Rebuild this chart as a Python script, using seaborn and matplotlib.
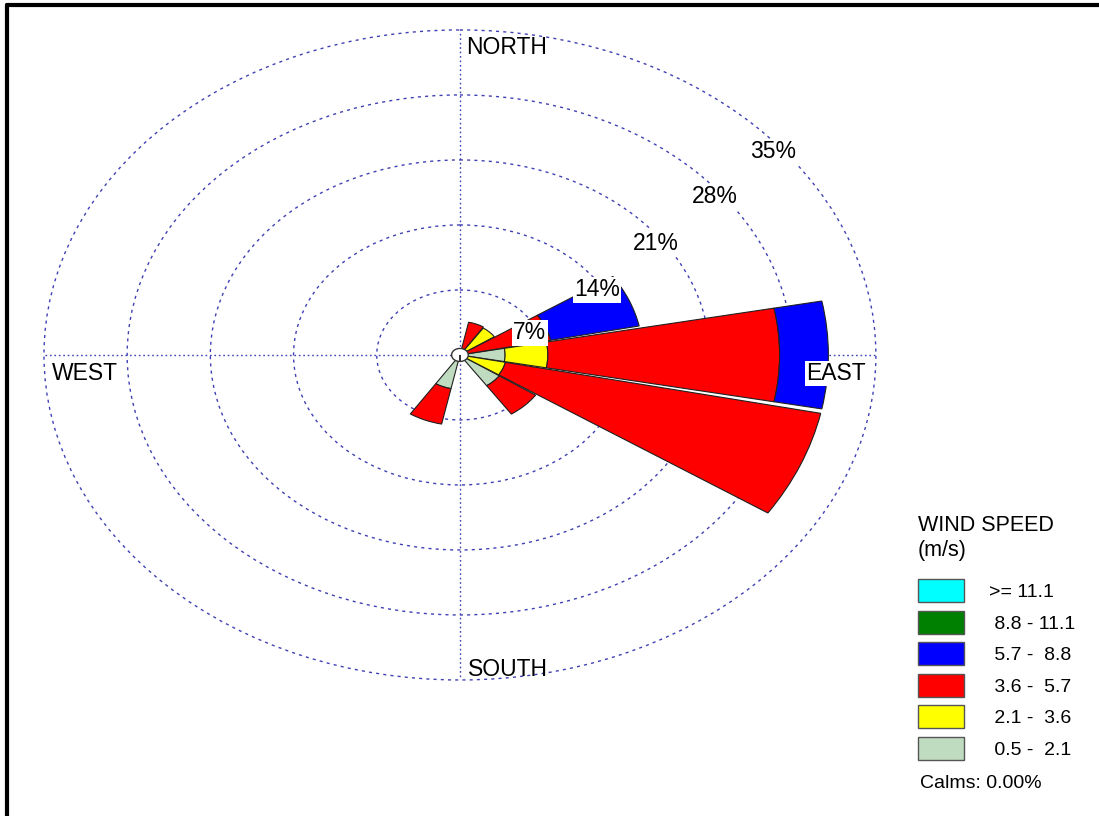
import numpy as np
import pandas as pd
import matplotlib
matplotlib.use('Agg')
import matplotlib.pyplot as plt
import seaborn as sns
from matplotlib.patches import Patch
from matplotlib.lines import Line2D

sns.set_style('white')
plt.rcParams['font.family'] = ['Liberation Sans', 'DejaVu Sans']
plt.rcParams['text.color'] = 'black'

# wind rose data: frequency (%) per direction and speed class
directions = ['N', 'NNE', 'NE', 'ENE', 'E', 'ESE', 'SE', 'SSE',
              'S', 'SSW', 'SW', 'WSW', 'W', 'WNW', 'NW', 'NNW']
dir_angles = [0, 22.5, 45, 67.5, 90, 112.5, 135, 157.5,
              180, 202.5, 225, 247.5, 270, 292.5, 315, 337.5]
speed_05_21 = [0, 0, 0, 0, 3.8, 0, 4.0, 0, 0, 3.7, 0, 0, 0, 0, 0, 0]
speed_21_36 = [0, 0, 3.5, 0, 3.6, 3.9, 0, 0, 0, 0, 0, 0, 0, 0, 0, 0]
speed_36_57 = [0, 3.6, 0, 7.8, 19.5, 27.1, 3.7, 0, 0, 3.9, 0, 0, 0, 0, 0, 0]
speed_57_88 = [0, 0, 0, 7.6, 4.1, 0, 0, 0, 0, 0, 0, 0, 0, 0, 0, 0]
speed_88_111 = [0, 0, 0, 0, 0, 0, 0, 0, 0, 0, 0, 0, 0, 0, 0, 0]
speed_111 = [0, 0, 0, 0, 0, 0, 0, 0, 0, 0, 0, 0, 0, 0, 0, 0]

classes = ['0.5 - 2.1', '2.1 - 3.6', '3.6 - 5.7', '5.7 - 8.8', '8.8 - 11.1', '>= 11.1']
legend_labels = [' 0.5 -  2.1', ' 2.1 -  3.6', ' 3.6 -  5.7', ' 5.7 -  8.8', ' 8.8 - 11.1', '>= 11.1']
colors = ['#c0dcc0', '#ffff00', '#ff0000', '#0000ff', '#008000', '#00ffff']

rings = [7, 14, 21, 28, 35]
ring_labels = ['7%', '14%', '21%', '28%', '35%']
ring_label_theta = [68, 58.7, 53.8, 51.6, 50.3]
ring_label_r = [6.35, 13.5, 20.4, 27.4, 34.3]

df = pd.DataFrame({'0.5 - 2.1': speed_05_21, '2.1 - 3.6': speed_21_36,
                   '3.6 - 5.7': speed_36_57, '5.7 - 8.8': speed_57_88,
                   '8.8 - 11.1': speed_88_111, '>= 11.1': speed_111},
                  index=directions)

fig = plt.figure(figsize=(10.99, 8.16), dpi=100)
ax = fig.add_axes([0.040, 0.1667, 0.757, 0.7966], projection='polar')
ax.set_aspect('auto')
ax.set_theta_zero_location('N')
ax.set_theta_direction(-1)
ax.set_ylim(0, 35)
ax.set_axisbelow(True)

grid_col = '#4040b4'
ax.set_rgrids(rings, labels=[''] * len(rings))
ax.set_thetagrids([0, 90, 180, 270], labels=[''] * 4)
ax.yaxis.grid(True, color=grid_col, linestyle=(0, (2.2, 3)), linewidth=1)
ax.xaxis.grid(True, color=grid_col, linestyle=(0, (1.2, 2)), linewidth=1)
for gl in ax.yaxis.get_gridlines():
    gl.set_clip_on(False)
ax.spines['polar'].set_visible(False)

theta = np.deg2rad(dir_angles)
width = np.deg2rad(22.5) * 0.96
bottom = np.zeros(len(directions))
for cls, col in zip(classes, colors):
    vals = df[cls].values
    m = vals > 0
    if m.any():
        ax.bar(theta[m], vals[m], width=width, bottom=bottom[m], color=col,
               edgecolor='#202020', linewidth=0.8, zorder=2)
    bottom = bottom + vals

# calm circle in the middle
ax.bar(0, 0.7, width=2 * np.pi, bottom=0, color='white', edgecolor='#333333',
       linewidth=1, zorder=3)

for lab, t, r in zip(ring_labels, ring_label_theta, ring_label_r):
    ax.text(np.deg2rad(t), r, lab, ha='center', va='center', fontsize=16.5,
            zorder=5, bbox=dict(facecolor='white', edgecolor='none', pad=1))

ax.text(0.507, 0.963, 'NORTH', transform=ax.transAxes, ha='left', va='baseline', fontsize=16.5)
ax.text(0.510, 0.006, 'SOUTH', transform=ax.transAxes, ha='left', va='baseline', fontsize=16.5)
ax.text(0.0096, 0.4615, 'WEST', transform=ax.transAxes, ha='left', va='baseline', fontsize=16.5)
ax.text(0.916, 0.4615, 'EAST', transform=ax.transAxes, ha='left', va='baseline', fontsize=16.5,
        zorder=5, bbox=dict(facecolor='white', edgecolor='none', pad=1))

handles = [Patch(facecolor=c, edgecolor='#555555', linewidth=1) for c in colors[::-1]]
leg = fig.legend(handles, legend_labels[::-1], loc='upper left',
                 bbox_to_anchor=(918 / 1099, 1 - 515 / 816), frameon=False,
                 title='WIND SPEED\n(m/s)', alignment='left', fontsize=14,
                 title_fontsize=15.5, handlelength=2.37, handleheight=1.44,
                 labelspacing=0.44, handletextpad=1.29, borderpad=0, borderaxespad=0)
leg.get_title().set_linespacing(1.25)
leg._legend_box.sep = 13
fig.text(920 / 1099, 1 - 784 / 816, 'Calms: 0.00%', ha='left', va='center', fontsize=14)

# frame lines at the top and left edge
fig.add_artist(Line2D([7 / 1099, 1], [1 - 5 / 816, 1 - 5 / 816], color='black', lw=3,
                      transform=fig.transFigure))
fig.add_artist(Line2D([7 / 1099, 7 / 1099], [0, 1 - 5 / 816], color='black', lw=3,
                      transform=fig.transFigure))

fig.savefig('out.png', dpi=100)
